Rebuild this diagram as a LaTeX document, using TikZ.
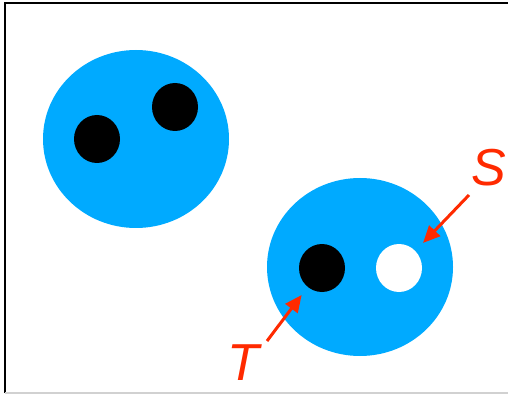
\documentclass[tikz,border=0pt]{standalone}
\usepackage{tikz}
\usetikzlibrary{shapes.geometric,arrows.meta}
\usepackage{fontspec}
\newfontfamily\labelfont{Liberation Sans}
\definecolor{cellblue}{HTML}{00AAFF}
\definecolor{markred}{HTML}{FF2A00}

\begin{document}
\begin{tikzpicture}[
  x=1pt, y=-1pt,
  blob/.style={ellipse, fill=cellblue, minimum width=186pt, minimum height=178pt, inner sep=0pt},
  dot/.style={ellipse, fill=black, minimum width=46pt, minimum height=48pt, inner sep=0pt},
  hole/.style={dot, fill=white},
  lbl/.style={text=markred, inner sep=0pt, font=\labelfont\itshape\fontsize{52}{52}\selectfont},
  pointer/.style={-{Triangle[length=17pt,width=15pt]}, line width=3pt, color=markred}
]
\useasboundingbox (0,0) rectangle (508,395);
\draw[line width=1.5pt] (5,393) -- (5,3) -- (508,3);
\draw[line width=1.5pt, black!18] (5,393) -- (508,393);

\node[blob] (cellA) at (136,139) {};
\node[dot] (dotA) at (97,139) {};
\node[dot] (dotB) at (175,107) {};

\node[blob] (cellB) at (360,267) {};
\node[dot] (dotT) at (322,268) {};
\node[hole] (dotS) at (399,268) {};

\node[lbl] (labS) at (489,168) {S};
\node[lbl] (labT) at (243,363) {T};
\coordinate (tailS) at (469,195);
\coordinate (tailT) at (267,341);

\draw[pointer, shorten >=11pt] (tailS) -- (dotS);
\draw[pointer, shorten >=10pt] (tailT) -- (dotT);
\end{tikzpicture}
\end{document}
